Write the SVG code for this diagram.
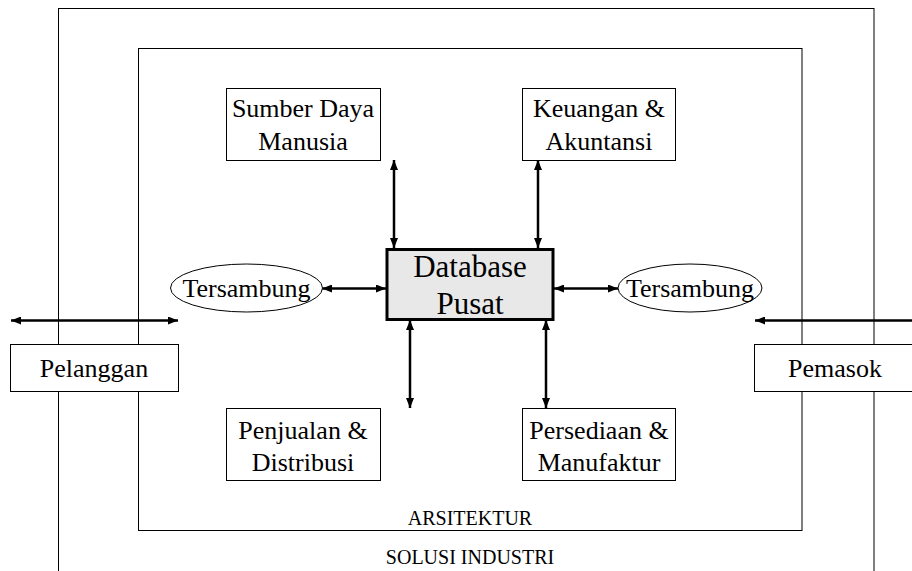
<svg xmlns="http://www.w3.org/2000/svg" width="912" height="571" viewBox="0 0 912 571">
  <defs>
    <marker id="head" viewBox="0 0 10 8" refX="10" refY="4" markerWidth="10" markerHeight="8" markerUnits="userSpaceOnUse" orient="auto-start-reverse">
      <path d="M0,0 L10,4 L0,8 z" fill="#000"/>
    </marker>
    <style>
      text { font-family: 'Liberation Serif', 'Tinos', 'Times New Roman', 'DejaVu Serif', serif; fill: #000; text-anchor: middle; }
      .frame { fill: none; stroke: #000; stroke-width: 1; }
      .box { fill: #fff; stroke: #000; stroke-width: 1; }
      .lbl { font-size: 26px; }
      .cap { font-size: 20px; }
      .conn { stroke: #000; stroke-width: 2.5; fill: none; }
      .both { marker-start: url(#head); marker-end: url(#head); }
      .one { marker-end: url(#head); }
    </style>
  </defs>
  <rect width="912" height="571" fill="#fff"/>

  <!-- outer and inner frames -->
  <g id="solusi-industri">
    <rect class="frame" x="58.5" y="8.5" width="815.5" height="600"/>
    <text class="cap" x="470" y="564">SOLUSI INDUSTRI</text>
  </g>
  <g id="arsitektur">
    <rect class="frame" x="138.5" y="48.5" width="663.5" height="482"/>
    <text class="cap" x="470" y="525">ARSITEKTUR</text>
  </g>

  <!-- connectors -->
  <g id="connectors">
    <line class="conn both" x1="394" y1="160" x2="394" y2="248"/>
    <line class="conn both" x1="538" y1="160" x2="538" y2="248"/>
    <line class="conn both" x1="410" y1="320" x2="410" y2="408"/>
    <line class="conn both" x1="546" y1="320" x2="546" y2="408"/>
    <line class="conn both" x1="322" y1="288.5" x2="386" y2="288.5"/>
    <line class="conn both" x1="554" y1="288.5" x2="618" y2="288.5"/>
    <line class="conn both" x1="11" y1="320.5" x2="178" y2="320.5"/>
    <line class="conn one" x1="914" y1="320.5" x2="755" y2="320.5"/>
  </g>

  <g id="sdm">
    <rect class="box" x="226.5" y="88.5" width="154" height="72"/>
    <text class="lbl" x="303" y="117">Sumber Daya</text>
    <text class="lbl" x="303" y="150">Manusia</text>
  </g>
  <g id="keuangan">
    <rect class="box" x="522.5" y="88.5" width="153" height="72"/>
    <text class="lbl" x="599" y="117">Keuangan &amp;</text>
    <text class="lbl" x="599" y="150">Akuntansi</text>
  </g>
  <g id="penjualan">
    <rect class="box" x="226.5" y="408.5" width="154" height="72"/>
    <text class="lbl" x="303" y="439">Penjualan &amp;</text>
    <text class="lbl" x="303" y="471">Distribusi</text>
  </g>
  <g id="persediaan">
    <rect class="box" x="522.5" y="408.5" width="153" height="72"/>
    <text class="lbl" x="599" y="439">Persediaan &amp;</text>
    <text class="lbl" x="599" y="471">Manufaktur</text>
  </g>

  <g id="database">
    <rect x="387" y="249.5" width="166" height="70" fill="#e8e8e8" stroke="#000" stroke-width="3"/>
    <text x="470" y="277" font-size="31">Database</text>
    <text x="470" y="314" font-size="31">Pusat</text>
  </g>

  <g id="tersambung-kiri">
    <ellipse cx="246.5" cy="288" rx="76" ry="24" fill="#fff" stroke="#000" stroke-width="1"/>
    <text class="lbl" x="246.5" y="297">Tersambung</text>
  </g>
  <g id="tersambung-kanan">
    <ellipse cx="690" cy="288" rx="72" ry="24" fill="#fff" stroke="#000" stroke-width="1"/>
    <text class="lbl" x="690" y="297">Tersambung</text>
  </g>

  <g id="pelanggan">
    <rect class="box" x="10.5" y="344.5" width="168" height="47"/>
    <text class="lbl" x="94" y="377">Pelanggan</text>
  </g>
  <g id="pemasok">
    <rect class="box" x="754.5" y="344.5" width="170" height="47"/>
    <text class="lbl" x="835" y="377">Pemasok</text>
  </g>
</svg>
